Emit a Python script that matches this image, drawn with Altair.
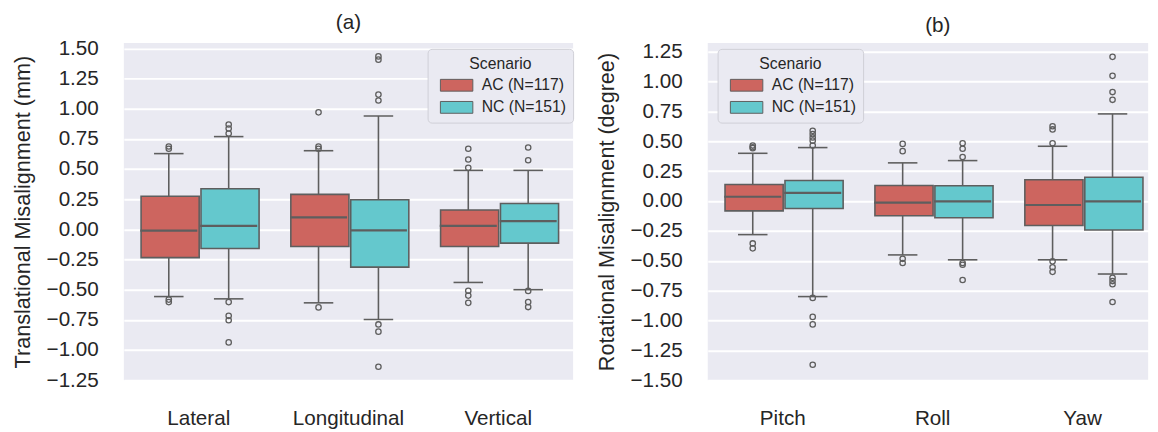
import altair as alt
import pandas as pd

# ---------------- data ----------------
scenarios = ["AC (N=117)", "NC (N=151)"]
colors = ["#CD655F", "#64C8CD"]

trans_cats = ["Lateral", "Longitudinal", "Vertical"]
# order: Lateral AC, Lateral NC, Longitudinal AC, Longitudinal NC, Vertical AC, Vertical NC
trans_lo = [-0.557, -0.576, -0.609, -0.747, -0.440, -0.500]
trans_q1 = [-0.234, -0.158, -0.142, -0.313, -0.142, -0.114]
trans_med = [-0.011, 0.029, 0.100, -0.008, 0.029, 0.068]
trans_q3 = [0.274, 0.337, 0.290, 0.245, 0.160, 0.214]
trans_hi = [0.628, 0.769, 0.652, 0.940, 0.489, 0.489]
trans_out = [
    [0.687, 0.668, -0.582, -0.603],
    [0.869, 0.836, 0.795, -0.603, -0.717, -0.753, -0.937],
    [0.970, 0.687, 0.668, -0.647],
    [1.434, 1.407, 1.117, 1.068, -0.788, -0.848, -1.139],
    [0.668, 0.579, 0.510, -0.509, -0.549, -0.609],
    [0.679, 0.573, -0.510, -0.603, -0.644],
]

rot_cats = ["Pitch", "Roll", "Yaw"]
rot_lo = [-0.281, -0.800, -0.451, -0.492, -0.492, -0.611]
rot_q1 = [-0.082, -0.062, -0.123, -0.139, -0.205, -0.243]
rot_med = [0.036, 0.069, -0.013, -0.002, -0.033, -0.002]
rot_q3 = [0.139, 0.172, 0.131, 0.129, 0.178, 0.200]
rot_hi = [0.400, 0.448, 0.320, 0.339, 0.459, 0.730]
rot_out = [
    [0.465, 0.451, 0.443, -0.355, -0.396],
    [0.588, 0.561, 0.533, 0.506, 0.465, -0.811, -0.970, -1.033, -1.371],
    [0.479, 0.418, -0.484, -0.519],
    [0.484, 0.438, 0.369, -0.519, -0.533, -0.661],
    [0.627, 0.600, 0.484, -0.505, -0.554, -0.593],
    [1.208, 1.049, 0.913, 0.848, -0.643, -0.670, -0.697, -0.845],
]

trans_ticks = [-1.25, -1.0, -0.75, -0.5, -0.25, 0.0, 0.25, 0.5, 0.75, 1.0, 1.25, 1.5]
rot_ticks = [-1.5, -1.25, -1.0, -0.75, -0.5, -0.25, 0.0, 0.25, 0.5, 0.75, 1.0, 1.25]

GRAY = "#5E5E5E"
TXT = "#262626"
FONT = "Liberation Sans"


def panel(cats, lo, q1, med, q3, hi, outs, title, ytitle, ticks, domain,
          width, height, xrange, legend_x, xlabel_pad, title_dx):
    rows, orows = [], []
    for i, c in enumerate(cats):
        for j, s in enumerate(scenarios):
            k = 2 * i + j
            rows.append(dict(cat=c, scn=s, lo=lo[k], q1=q1[k], med=med[k],
                             q3=q3[k], hi=hi[k]))
            for v in outs[k]:
                orows.append(dict(cat=c, scn=s, val=v))
    df = pd.DataFrame(rows)
    odf = pd.DataFrame(orows)

    if xrange is not None:
        xs = alt.Scale(domain=cats, paddingInner=0, paddingOuter=0, range=xrange)
    else:
        xs = alt.Scale(domain=cats, paddingInner=0, paddingOuter=0)
    x = alt.X("cat:N", scale=xs, sort=cats,
              axis=alt.Axis(title=None, labelAngle=0, labelFontSize=21,
                            labelPadding=xlabel_pad, ticks=False, domain=False,
                            grid=False, labelColor=TXT, labelFont=FONT))
    xo = alt.XOffset("scn:N", scale=alt.Scale(domain=scenarios, paddingInner=0,
                                              paddingOuter=0.25))
    ys = alt.Scale(domain=domain, nice=False, zero=False)
    yaxis = alt.Axis(title=ytitle, values=ticks, format=".2f", labelFontSize=21,
                     titleFontSize=22, titleFontWeight="normal", labelPadding=26,
                     titlePadding=12, ticks=False, domain=False, grid=True,
                     gridColor="white", gridWidth=2, gridOpacity=1,
                     labelColor=TXT, titleColor=TXT, labelFont=FONT,
                     titleFont=FONT)

    def Y(field):
        return alt.Y(field, scale=ys, axis=yaxis, title=ytitle)

    base = alt.Chart(df)
    whisk = base.mark_rule(color=GRAY, strokeWidth=1.6).encode(
        x=x, xOffset=xo, y=Y("lo:Q"), y2="hi:Q")
    box = base.mark_bar(stroke=GRAY, strokeWidth=1.6, width={"band": 0.97},
                        opacity=1).encode(
        x=x, xOffset=xo, y=Y("q1:Q"), y2="q3:Q",
        color=alt.Color("scn:N", scale=alt.Scale(domain=scenarios, range=colors),
                        legend=alt.Legend(
                            title="Scenario", orient="none", legendX=legend_x,
                            legendY=6, symbolType="M-0.333,-1H5.167V1H-0.333Z",
                            symbolSize=144, symbolStrokeColor=GRAY,
                            symbolStrokeWidth=1, symbolOpacity=1,
                            labelFontSize=16, titleFontSize=16,
                            titleFontWeight="normal", titleAnchor="middle",
                            labelFont=FONT, titleFont=FONT, labelColor=TXT,
                            titleColor=TXT, fillColor="#EAEAF2",
                            strokeColor="#CFCFD6", cornerRadius=4, padding=7,
                            rowPadding=6.5, labelOffset=32, titlePadding=6)))
    caps = base.transform_fold(["lo", "hi"], as_=["k", "v"]).mark_tick(
        color=GRAY, thickness=1.6, size=30, opacity=1).encode(
        x=x, xOffset=xo, y=Y("v:Q"))
    meds = base.mark_tick(color=GRAY, thickness=2.2, size=58, opacity=1).encode(
        x=x, xOffset=xo, y=Y("med:Q"))
    pts = alt.Chart(odf).mark_point(shape="circle", filled=False, color=GRAY,
                                    size=30, strokeWidth=1.3, opacity=1).encode(
        x=x, xOffset=xo, y=Y("val:Q"))

    return alt.layer(whisk, box, caps, meds, pts).properties(
        width=width, height=height,
        title=alt.TitleParams(text=title, fontSize=21, fontWeight="normal",
                              anchor="middle", frame="group", offset=5,
                              color=TXT, font=FONT, dx=title_dx))


pa = panel(trans_cats, trans_lo, trans_q1, trans_med, trans_q3, trans_hi,
           trans_out, "(a)", "Translational Misalignment (mm)", trans_ticks,
           [-1.25, 1.545], 457, 343, None, 309, 28, 0)
pb = panel(rot_cats, rot_lo, rot_q1, rot_med, rot_q3, rot_hi, rot_out, "(b)",
           "Rotational Misalignment (degree)", rot_ticks, [-1.5, 1.324],
           448, 343, [0, 457.5], 10, 28, 10)

chart = alt.hconcat(pa, pb, spacing=21).resolve_scale(
    color="independent", y="independent", x="independent",
    xOffset="independent").resolve_legend(color="independent").properties(
    padding={"left": 11, "top": 8, "right": 0, "bottom": 0},
    background="white").configure_view(fill="#EAEAF2", stroke=None)

chart.save("out.html", embed_options={"renderer": "svg", "actions": False})
